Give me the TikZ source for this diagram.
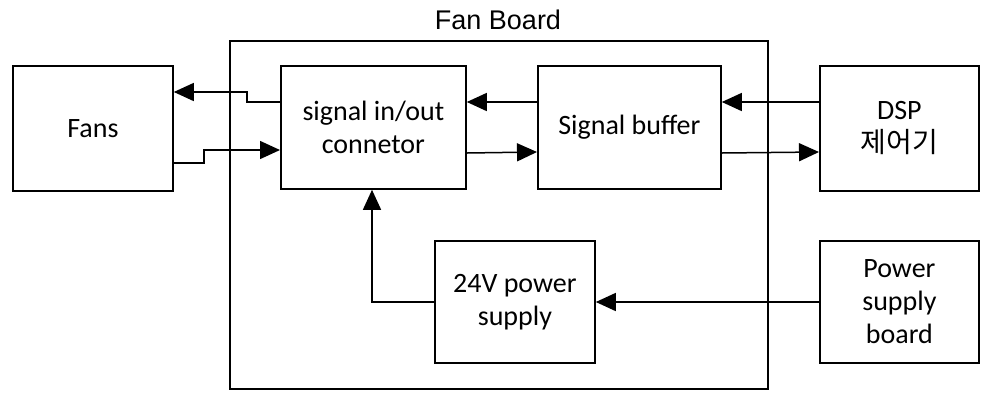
\documentclass[tikz,border=0pt]{standalone}
\usepackage{fontspec}
\setmainfont{Carlito}
\newfontfamily\arialf{Liberation Sans}
\newfontfamily\cjk{Noto Sans CJK KR}
\usetikzlibrary{arrows.meta}
\begin{document}
\begin{tikzpicture}[x=1pt,y=-1pt,
  blk/.style={draw,line width=1.8pt,inner sep=0pt,font=\fontsize{28}{33}\selectfont,align=center},
  conn/.style={line width=1.5pt,-{Triangle[length=20pt,width=18pt]}}]
\useasboundingbox (0,0) rectangle (992,400);
\node[draw,line width=1.8pt,minimum width=538pt,minimum height=348pt,anchor=north west] (board) at (229,40) {};
\node[font=\arialf\fontsize{27}{30}\selectfont] (title) at (498,20) {Fan Board};
\node[blk,minimum width=160pt,minimum height=125pt,anchor=north west] (fans) at (12,65) {Fans};
\node[blk,minimum width=185pt,minimum height=123pt,anchor=north west] (conn) at (280,65) {signal in/out\\connetor};
\node[blk,minimum width=183pt,minimum height=123pt,anchor=north west] (buf) at (537,65) {Signal buffer};
\node[blk,minimum width=159pt,minimum height=125pt,anchor=north west] (dsp) at (819,65) {DSP\\{\cjk 제어기}};
\node[blk,minimum width=160pt,minimum height=122pt,anchor=north west] (pwr) at (434,240) {24V power\\supply};
\node[blk,minimum width=159pt,minimum height=122pt,anchor=north west] (psb) at (819,240) {Power\\supply\\board};
\coordinate (c1) at (247,102);
\coordinate (c2) at (204,163);
\draw[conn] (conn.west |- c1) -- (c1) -- (247,92) -- (fans.east |- 0,92);
\draw[conn] (fans.east |- c2) -- (c2) -- (204,150) -- (conn.west |- 0,150);
\draw[conn] (buf.west |- 0,102) -- (conn.east |- 0,102);
\draw[conn] (conn.east |- 0,153) -- (buf.west |- 0,152);
\draw[conn] (dsp.west |- 0,102) -- (buf.east |- 0,102);
\draw[conn] (buf.east |- 0,153) -- (dsp.west |- 0,152);
\draw[conn] (psb.west |- 0,302) -- (pwr.east |- 0,302);
\draw[conn] (pwr.west |- 0,302) -| (conn.south -| 372,0);
\end{tikzpicture}
\end{document}
